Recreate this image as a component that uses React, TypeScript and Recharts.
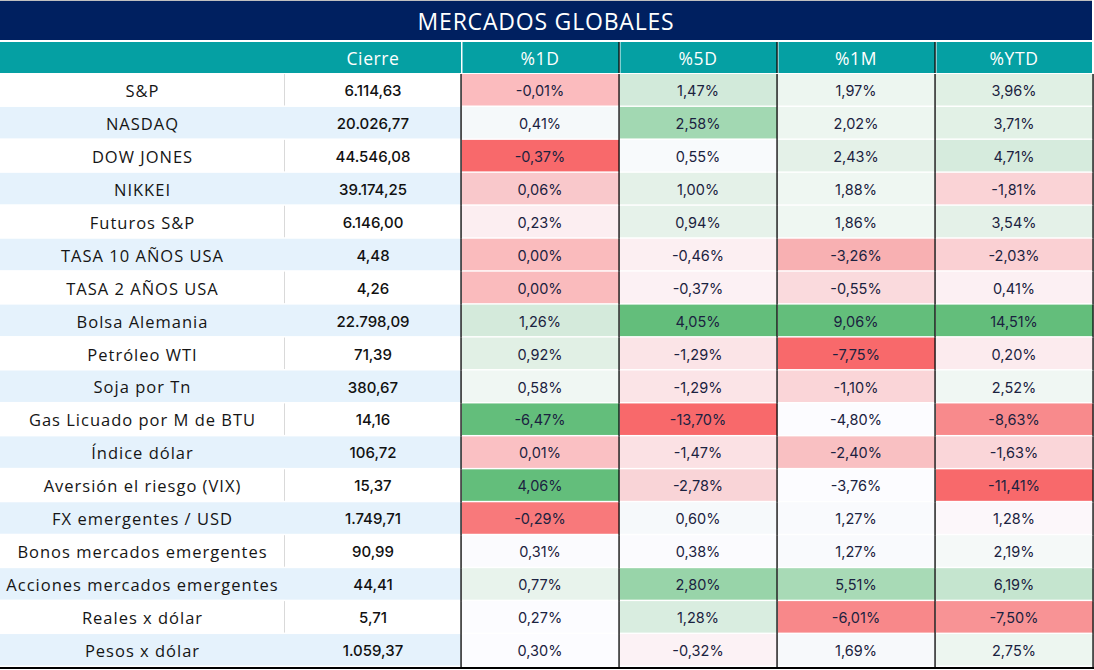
import { BarChart, Bar, XAxis, YAxis } from 'recharts'

const NAMES = [
  'S&P', 'NASDAQ', 'DOW JONES', 'NIKKEI', 'Futuros S&P', 'TASA 10 AÑOS USA', 'TASA 2 AÑOS USA',
  'Bolsa Alemania', 'Petróleo WTI', 'Soja por Tn', 'Gas Licuado por M de BTU', 'Índice dólar',
  'Aversión el riesgo (VIX)', 'FX emergentes / USD', 'Bonos mercados emergentes',
  'Acciones mercados emergentes', 'Reales x dólar', 'Pesos x dólar',
]
const CIERRE = [
  6114.63, 20026.77, 44546.08, 39174.25, 6146.0, 4.48, 4.26, 22798.09, 71.39,
  380.67, 14.16, 106.72, 15.37, 1749.71, 90.99, 44.41, 5.71, 1059.37,
]
const D1 = [-0.01, 0.41, -0.37, 0.06, 0.23, 0.0, 0.0, 1.26, 0.92, 0.58, -6.47, 0.01, 4.06, -0.29, 0.31, 0.77, 0.27, 0.3]
const D5 = [1.47, 2.58, 0.55, 1.0, 0.94, -0.46, -0.37, 4.05, -1.29, -1.29, -13.7, -1.47, -2.78, 0.6, 0.38, 2.8, 1.28, -0.32]
const M1 = [1.97, 2.02, 2.43, 1.88, 1.86, -3.26, -0.55, 9.06, -7.75, -1.1, -4.8, -2.4, -3.76, 1.27, 1.27, 5.51, -6.01, 1.69]
const YTD = [3.96, 3.71, 4.71, -1.81, 3.54, -2.03, 0.41, 14.51, 0.2, 2.52, -8.63, -1.63, -11.41, 1.28, 2.19, 6.19, -7.5, 2.75]
const HEADERS = ['Cierre', '%1D', '%5D', '%1M', '%YTD']

// heatmap fills as they appear in the sheet (conditional format, per column)
const FILLS: Record<string, string[]> = {
  d1: ['#FBBBBE', '#F5F9FA', '#F8696B', '#F9C8CB', '#FCEEF1', '#FABBBD', '#FABBBD', '#D4EADB', '#E1F0E5',
    '#F0F7F3', '#63BE7B', '#FAC0C3', '#63BE7B', '#F8797B', '#FBFBFE', '#E8F3EC', '#FCFCFF', '#FCFCFF'],
  d5: ['#D2EADA', '#A2D8B2', '#F8FAFC', '#E4F1E8', '#E6F2EA', '#FCEFF2', '#FCF1F4', '#63BE7B', '#FBE4E7',
    '#FBE4E7', '#F8696B', '#FBE1E4', '#F9D4D7', '#F6F9FB', '#FBFBFE', '#98D4A9', '#D9EDE0', '#FCF2F5'],
  m1: ['#EDF6F0', '#EDF6F0', '#E4F1E8', '#EFF7F2', '#EFF7F2', '#F8B0B2', '#FADADD', '#63BE7B', '#F8696B',
    '#FAD5D8', '#FCFCFF', '#F9C0C2', '#FCFCFF', '#F9FAFD', '#F9FAFD', '#A8DAB6', '#F8888A', '#F7F9FB'],
  ytd: ['#E0F0E4', '#E2F1E6', '#D6EBDD', '#FAD3D6', '#E4F1E8', '#FAD0D3', '#FCF0F3', '#63BE7B', '#FCEBEE',
    '#F0F7F3', '#F88A8C', '#FAD6D9', '#F8696B', '#FCF7FA', '#F5F9F8', '#C5E5CF', '#F89395', '#EDF6F0'],
}

const FONT = '"Open Sans", sans-serif'
const NUM_FONT = 'Inter, sans-serif'
const NAVY = '#002060'
const TEAL = '#05A0A3'
const ALT = '#E5F2FC'
const TXT = '#1B2240'

const LABEL_W = 285
const COL_W = [176, 158, 158, 158, 158]
const TOTAL = COL_W.reduce((a, b) => a + b, 0)
const CENTERS = COL_W.map((w, i) => COL_W.slice(0, i).reduce((a, b) => a + b, 0) + w / 2)
const PCT_KEYS = ['d1', 'd5', 'm1', 'ytd']
const LAST = NAMES.length - 1

const rows = NAMES.map((name, i) => ({
  name, cierre: CIERRE[i], d1: D1[i], d5: D5[i], m1: M1[i], ytd: YTD[i],
}))

function fmtNum(v: number): string {
  const [int, dec] = v.toFixed(2).split('.')
  return int.replace(/\B(?=(\d{3})+(?!\d))/g, '.') + ',' + dec
}
function fmtPct(v: number): string {
  return v.toFixed(2).replace('.', ',') + '%'
}

function HeaderTick(props: any) {
  const { x, index } = props
  const w = COL_W[index]
  const left = x - w / 2
  return (
    <g>
      {index === 0 ? (
        <rect x={0} y={2} width={left + w} height={31} fill={TEAL} />
      ) : (
        <rect x={left + 1.5} y={2} width={w - 1.5 - (index === 4 ? 1 : 0)} height={31} fill={TEAL} />
      )}
      {index >= 2 && <rect x={left - 0.6} y={2} width={1.3} height={31} fill="#000" />}
      <text x={x} y={18} textAnchor="middle" dominantBaseline="central" fill="#fff"
        fontSize={17.5} letterSpacing={0.6} fontFamily={FONT}>
        {HEADERS[index]}
      </text>
    </g>
  )
}

function RowLabel(props: any) {
  const { y, index, payload } = props
  const band = 593 / NAMES.length
  const top = y - band / 2
  const odd = index % 2 === 1
  return (
    <g>
      <rect x={0} y={top} width={LABEL_W} height={band - 1.5} fill={odd ? ALT : '#fff'} />
      {!odd && <rect x={284} y={top} width={1} height={band - 1.5} fill="#D9D9D9" />}
      <text x={142.5} y={y} textAnchor="middle" dominantBaseline="central" fill="#151515"
        fontSize={16.5} letterSpacing={1} fontFamily={FONT}>
        {payload.value}
      </text>
      {index === LAST && <rect x={0} y={top + band} width={1094} height={2} fill="#000" />}
    </g>
  )
}

function CierreCell(props: any) {
  const { x, y, width, height, index, payload } = props
  return (
    <g>
      <rect x={x} y={y} width={width} height={height - 1.5} fill={index % 2 === 1 ? ALT : '#fff'} />
      <text x={x + width / 2} y={y + height / 2} textAnchor="middle" dominantBaseline="central"
        fill="#111" fontSize={15} fontWeight={500} fontFamily={NUM_FONT}>
        {fmtNum(payload.cierre)}
      </text>
    </g>
  )
}

function makePctCell(key: string, last: boolean) {
  return function PctCell(props: any) {
    const { x, y, width, height, index, payload } = props
    return (
      <g>
        <rect x={x + 1} y={y} width={width - 1} height={height - 1.5} fill={FILLS[key][index]} />
        <rect x={x - 0.6} y={y} width={1.3} height={height} fill="#000" />
        {last && <rect x={x + width - 0.6} y={y} width={1.3} height={height} fill="#000" />}
        <text x={x + width / 2} y={y + height / 2} textAnchor="middle" dominantBaseline="central"
          fill={TXT} fontSize={14.5} fontFamily={NUM_FONT}>
          {fmtPct(payload[key])}
        </text>
      </g>
    )
  }
}

export default function App() {
  return (
    <div style={{ position: 'absolute', left: 0, top: 0, width: 1094, height: 670, background: '#fff', fontFamily: FONT }}>
      <div style={{
        height: 39, borderTop: '1px solid #BFBFBF', background: NAVY, color: '#fff',
        fontSize: 23, letterSpacing: 0.8, display: 'flex', alignItems: 'center', justifyContent: 'center', marginRight: 2,
      }}>
        MERCADOS GLOBALES
      </div>
      <BarChart
        width={1094}
        height={630}
        data={rows}
        layout="vertical"
        barCategoryGap={0}
        barGap={0}
        margin={{ top: 0, right: 1, bottom: 3, left: 0 }}
      >
        <XAxis
          type="number"
          orientation="top"
          domain={[0, TOTAL]}
          ticks={CENTERS}
          interval={0}
          height={34}
          axisLine={false}
          tickLine={false}
          tick={(p: any) => <HeaderTick {...p} />}
        />
        <YAxis
          type="category"
          dataKey="name"
          width={LABEL_W}
          interval={0}
          axisLine={false}
          tickLine={false}
          tick={(p: any) => <RowLabel {...p} />}
        />
        <Bar dataKey={() => COL_W[0]} stackId="t" isAnimationActive={false}
          shape={(p: any) => <CierreCell {...p} />} />
        {PCT_KEYS.map((k, i) => {
          const Cell = makePctCell(k, i === PCT_KEYS.length - 1)
          return (
            <Bar key={k} dataKey={() => COL_W[i + 1]} stackId="t" isAnimationActive={false}
              shape={(p: any) => <Cell {...p} />} />
          )
        })}
      </BarChart>
    </div>
  )
}
